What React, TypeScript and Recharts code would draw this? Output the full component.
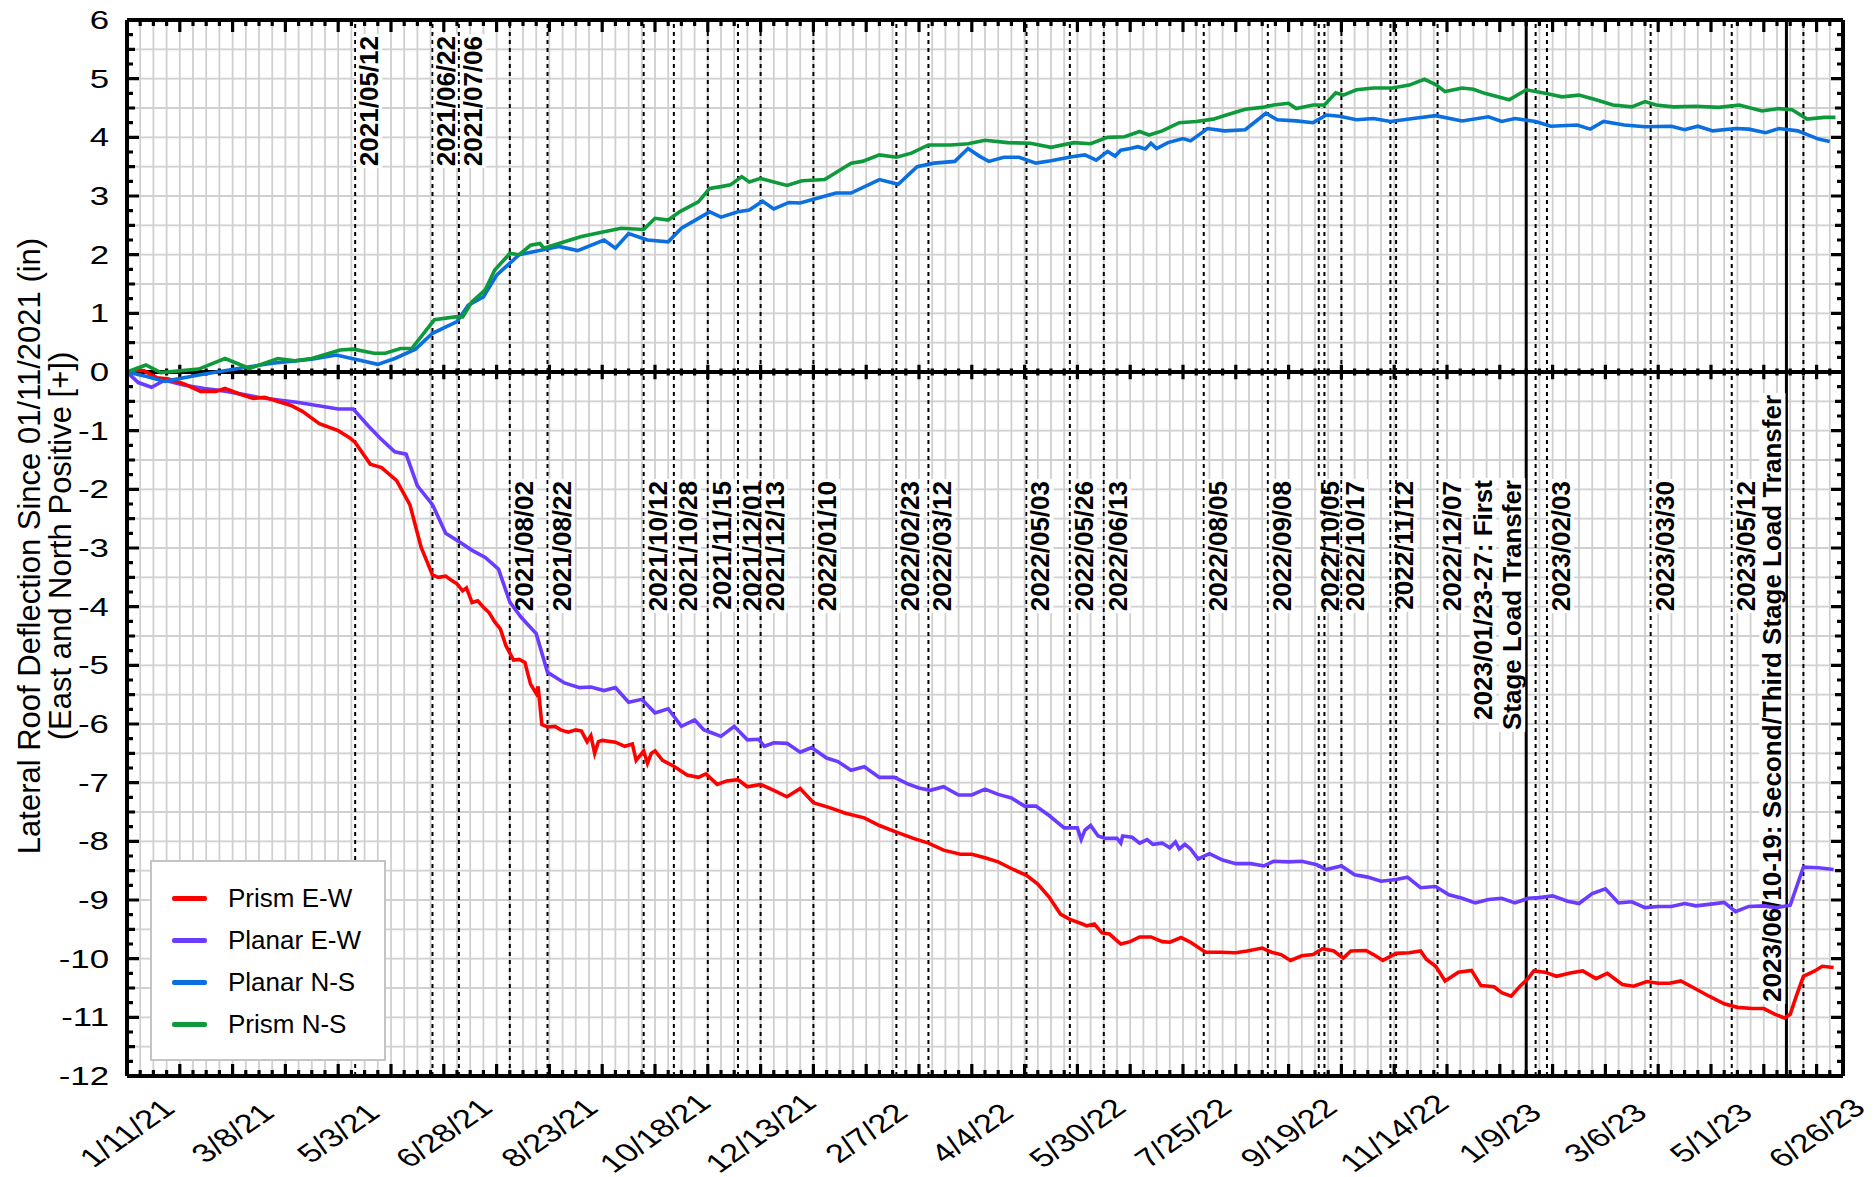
import React from "react";
import {
  CartesianGrid,
  Legend,
  Line,
  LineChart,
  ReferenceLine,
  XAxis,
  YAxis,
} from "recharts";

// x values are days since 1/11/21
const X_MAX = 910;
const Y_MIN = -12;
const Y_MAX = 6;
const PLOT_W = 1716;
const PLOT_H = 1056;
const START = Date.UTC(2021, 0, 11);
const FONT = "'Liberation Sans', Arial, sans-serif";

const xTickLabels = [
  "1/11/21", "3/8/21", "5/3/21", "6/28/21", "8/23/21", "10/18/21", "12/13/21",
  "2/7/22", "4/4/22", "5/30/22", "7/25/22", "9/19/22", "11/14/22",
  "1/9/23", "3/6/23", "5/1/23", "6/26/23",
];

const prismEW: [number, number][] = [
  [0, 0], [5, 0.03], [9, 0.02], [16, -0.1], [22, -0.12], [30, -0.2], [39, -0.33], [47, -0.33],
  [52, -0.28], [60, -0.38], [67, -0.45], [73, -0.43], [81, -0.51], [87, -0.57], [93, -0.67],
  [102, -0.88], [112, -1.0], [118, -1.12], [121, -1.2], [129, -1.57], [135, -1.63], [143, -1.85],
  [150, -2.26], [156, -2.99], [162, -3.46], [165, -3.5], [169, -3.48], [172, -3.55], [175, -3.61],
  [178, -3.73], [180, -3.68], [183, -3.93], [186, -3.9], [189, -4.01], [192, -4.1], [195, -4.26],
  [198, -4.38], [201, -4.67], [205, -4.91], [208, -4.9], [211, -4.95], [214, -5.32], [217, -5.48],
  [218, -5.36], [220, -6.01], [223, -6.05], [227, -6.04], [230, -6.1], [234, -6.14], [238, -6.1],
  [241, -6.12], [244, -6.3], [246, -6.2], [248, -6.5], [250, -6.3], [252, -6.28], [259, -6.31],
  [264, -6.38], [268, -6.34], [270, -6.62], [274, -6.46], [276, -6.67], [278, -6.5], [280, -6.46],
  [284, -6.62], [290, -6.72], [297, -6.87], [303, -6.91], [307, -6.85], [313, -7.03], [318, -6.97],
  [324, -6.95], [329, -7.07], [336, -7.03], [343, -7.13], [350, -7.24], [357, -7.1], [364, -7.34],
  [373, -7.43], [381, -7.52], [391, -7.6], [399, -7.73], [407, -7.83], [417, -7.95], [425, -8.03],
  [433, -8.15], [442, -8.22], [448, -8.22], [455, -8.28], [462, -8.35], [470, -8.48], [477, -8.58],
  [483, -8.73], [489, -8.95], [495, -9.24], [500, -9.33], [506, -9.4], [509, -9.44], [513, -9.41],
  [517, -9.56], [521, -9.58], [527, -9.75], [532, -9.71], [537, -9.63], [543, -9.63], [549, -9.71],
  [553, -9.72], [559, -9.64], [564, -9.72], [572, -9.89], [580, -9.89], [588, -9.9], [594, -9.87],
  [602, -9.82], [607, -9.89], [612, -9.93], [617, -10.03], [623, -9.95], [629, -9.93], [634, -9.83],
  [640, -9.87], [645, -9.99], [649, -9.87], [657, -9.86], [661, -9.93], [666, -10.03], [673, -9.91],
  [680, -9.9], [686, -9.87], [689, -10.01], [694, -10.13], [699, -10.38], [706, -10.23], [713, -10.2],
  [718, -10.46], [725, -10.48], [729, -10.58], [734, -10.64], [739, -10.46], [743, -10.34],
  [746, -10.21], [752, -10.23], [758, -10.3], [766, -10.24], [772, -10.21], [779, -10.34],
  [785, -10.25], [793, -10.44], [799, -10.47], [806, -10.39], [812, -10.42], [818, -10.42],
  [824, -10.38], [831, -10.5], [839, -10.64], [847, -10.77], [854, -10.83], [862, -10.85],
  [868, -10.85], [874, -10.95], [879, -11.01], [882, -10.95], [885, -10.66], [889, -10.3],
  [895, -10.21], [899, -10.13], [905, -10.15],
];

const planarEW: [number, number][] = [
  [0, 0], [6, -0.18], [13, -0.26], [20, -0.14], [30, -0.22], [41, -0.28], [53, -0.33], [71, -0.44],
  [91, -0.52], [112, -0.63], [120, -0.63], [128, -0.92], [134, -1.12], [142, -1.36], [148, -1.4],
  [154, -1.94], [162, -2.26], [169, -2.75], [177, -2.91], [183, -3.04], [190, -3.16], [197, -3.36],
  [203, -3.92], [209, -4.18], [217, -4.46], [223, -5.12], [232, -5.3], [240, -5.38], [246, -5.37],
  [253, -5.43], [259, -5.38], [266, -5.63], [273, -5.58], [280, -5.81], [287, -5.74], [294, -6.04],
  [301, -5.93], [306, -6.1], [310, -6.15], [315, -6.21], [322, -6.04], [329, -6.27], [335, -6.26],
  [338, -6.38], [343, -6.32], [350, -6.33], [357, -6.48], [363, -6.4], [371, -6.58], [377, -6.64],
  [384, -6.79], [391, -6.73], [399, -6.91], [407, -6.91], [414, -7.02], [420, -7.09], [426, -7.13],
  [433, -7.07], [441, -7.21], [448, -7.21], [455, -7.11], [462, -7.2], [469, -7.26], [476, -7.4],
  [482, -7.4], [489, -7.56], [497, -7.77], [504, -7.77], [506, -7.97], [508, -7.81], [511, -7.73],
  [515, -7.91], [519, -7.95], [525, -7.95], [527, -8.03], [528, -7.91], [533, -7.93], [537, -8.03],
  [541, -7.97], [544, -8.05], [549, -8.03], [553, -8.11], [556, -8.01], [558, -8.13], [561, -8.05],
  [564, -8.13], [568, -8.3], [574, -8.21], [581, -8.32], [588, -8.38], [596, -8.38], [603, -8.42],
  [608, -8.34], [616, -8.35], [623, -8.34], [631, -8.4], [636, -8.48], [644, -8.42], [651, -8.57],
  [658, -8.61], [665, -8.68], [673, -8.65], [679, -8.61], [686, -8.79], [694, -8.77], [701, -8.91],
  [708, -8.97], [715, -9.05], [722, -8.99], [729, -8.97], [736, -9.05], [743, -8.97], [749, -8.96],
  [756, -8.93], [764, -9.02], [770, -9.06], [777, -8.89], [784, -8.81], [791, -9.05], [798, -9.03],
  [805, -9.13], [812, -9.11], [819, -9.11], [826, -9.06], [832, -9.1], [840, -9.07], [847, -9.04],
  [853, -9.2], [860, -9.11], [868, -9.1], [875, -9.13], [882, -9.09], [889, -8.44], [897, -8.45],
  [905, -8.48],
];

const planarNS: [number, number][] = [
  [0, 0], [11, -0.08], [20, -0.16], [38, -0.05], [59, 0.06], [77, 0.15], [98, 0.22], [111, 0.29],
  [133, 0.13], [142, 0.23], [153, 0.39], [162, 0.66], [175, 0.86], [181, 1.14], [189, 1.28],
  [196, 1.65], [208, 2.0], [220, 2.08], [229, 2.14], [239, 2.07], [253, 2.25], [259, 2.11],
  [266, 2.36], [276, 2.25], [287, 2.22], [294, 2.45], [309, 2.73], [315, 2.64], [324, 2.73],
  [330, 2.76], [337, 2.91], [343, 2.78], [351, 2.89], [357, 2.88], [366, 2.96], [376, 3.05],
  [384, 3.05], [399, 3.28], [409, 3.2], [419, 3.5], [428, 3.56], [439, 3.59], [446, 3.81],
  [452, 3.68], [457, 3.59], [465, 3.66], [473, 3.66], [482, 3.56], [490, 3.6], [501, 3.67],
  [508, 3.7], [514, 3.61], [520, 3.76], [524, 3.68], [527, 3.78], [532, 3.81], [536, 3.84],
  [540, 3.8], [543, 3.9], [546, 3.81], [552, 3.91], [560, 3.98], [564, 3.94], [573, 4.15],
  [582, 4.11], [593, 4.13], [604, 4.41], [610, 4.3], [620, 4.28], [629, 4.25], [636, 4.38],
  [643, 4.36], [652, 4.3], [661, 4.32], [670, 4.27], [682, 4.32], [694, 4.37], [708, 4.28],
  [722, 4.35], [729, 4.27], [736, 4.32], [747, 4.27], [755, 4.19], [769, 4.21], [776, 4.14],
  [783, 4.27], [794, 4.21], [805, 4.18], [819, 4.19], [826, 4.13], [833, 4.19], [841, 4.11],
  [853, 4.15], [860, 4.14], [869, 4.08], [876, 4.15], [886, 4.11], [897, 3.97], [903, 3.93],
];

const prismNS: [number, number][] = [
  [0, 0], [10, 0.12], [18, -0.01], [38, 0.05], [52, 0.23], [65, 0.06], [80, 0.23], [89, 0.19],
  [98, 0.23], [113, 0.375], [120, 0.39], [131, 0.32], [137, 0.32], [145, 0.4], [151, 0.4],
  [163, 0.89], [174, 0.94], [178, 0.94], [183, 1.2], [190, 1.4], [195, 1.74], [203, 2.02],
  [208, 2.0], [214, 2.16], [219, 2.19], [221, 2.11], [232, 2.22], [241, 2.31], [253, 2.39],
  [262, 2.45], [274, 2.43], [280, 2.62], [287, 2.59], [293, 2.73], [303, 2.9], [309, 3.13],
  [315, 3.16], [320, 3.19], [326, 3.33], [330, 3.24], [336, 3.3], [350, 3.18], [358, 3.26],
  [370, 3.28], [384, 3.56], [390, 3.59], [399, 3.7], [408, 3.66], [416, 3.73], [425, 3.87],
  [437, 3.87], [446, 3.89], [455, 3.95], [467, 3.91], [479, 3.9], [490, 3.83], [502, 3.91],
  [511, 3.89], [520, 4.0], [529, 4.01], [537, 4.1], [542, 4.04], [549, 4.11], [558, 4.25],
  [567, 4.27], [576, 4.31], [583, 4.38], [593, 4.48], [602, 4.51], [608, 4.55], [616, 4.58],
  [620, 4.49], [629, 4.55], [635, 4.55], [641, 4.76], [645, 4.72], [652, 4.81], [661, 4.84],
  [671, 4.84], [680, 4.89], [688, 4.99], [694, 4.9], [699, 4.78], [708, 4.84], [714, 4.82],
  [720, 4.75], [727, 4.69], [733, 4.64], [742, 4.81], [752, 4.75], [761, 4.69], [770, 4.72],
  [779, 4.64], [788, 4.55], [798, 4.52], [805, 4.61], [811, 4.55], [820, 4.52], [832, 4.53],
  [844, 4.51], [855, 4.55], [867, 4.45], [876, 4.49], [883, 4.47], [891, 4.31], [900, 4.34],
  [906, 4.34],
];

const seriesNames = ["Prism E-W", "Planar E-W", "Planar N-S", "Prism N-S"];
const seriesColors = ["#ff0000", "#6b3cff", "#0b6fe0", "#0e9a3a"];

const upperEvents = ["2021/05/12", "2021/06/22", "2021/07/06"];
const lowerEvents = [
  "2021/08/02", "2021/08/22", "2021/10/12", "2021/10/28", "2021/11/15", "2021/12/01",
  "2021/12/13", "2022/01/10", "2022/02/23", "2022/03/12", "2022/05/03", "2022/05/26",
  "2022/06/13", "2022/08/05", "2022/09/08", "2022/10/05", "2022/10/17", "2022/11/12",
  "2022/12/07", "2023/02/03", "2023/03/30", "2023/05/12",
];
const plainEvents = ["2022/10/08", "2022/11/15", "2023/01/28", "2023/06/19"];
const stageEvents = [
  { date: "2023/01/23", lines: ["2023/01/23-27: First", "Stage Load Transfer"], dx: [-43, -14], top: 460 },
  { date: "2023/06/10", lines: ["2023/06/10-19: Second/Third Stage Load Transfer"], dx: [-14], top: 375 },
];

const dayOf = (s: string) => {
  const [y, m, d] = s.split("/").map(Number);
  return Math.round((Date.UTC(y, m - 1, d) - START) / 86400000);
};
const toPts = (a: [number, number][]) => a.map(([d, v]) => ({ d, v }));
const seriesData = [prismEW, planarEW, planarNS, prismNS].map(toPts);

const weekTicks = Array.from({ length: X_MAX / 7 + 1 }, (_, i) => i * 7);
const halfTicks = Array.from({ length: 37 }, (_, i) => Y_MIN + i * 0.5);
const quarterTicks = Array.from({ length: 73 }, (_, i) => Y_MIN + i * 0.25);

// inward tick marks, drawn as comb-shaped polylines in axis units
const pxX = (px: number) => (px * X_MAX) / PLOT_W;
const pxY = (px: number) => (px * (Y_MAX - Y_MIN)) / PLOT_H;
const xLen = (d: number) => (d % 28 === 0 ? 12 : 6);
const yLen = (v: number) => {
  const q = Math.round(v * 4);
  return q % 4 === 0 ? 12 : q % 2 === 0 ? 8 : 6;
};
const combs = [
  weekTicks.flatMap((d) => [
    { d, v: Y_MAX }, { d, v: Y_MAX - pxY(xLen(d)) }, { d, v: Y_MAX },
  ]),
  weekTicks.flatMap((d) => [
    { d, v: Y_MIN }, { d, v: Y_MIN + pxY(xLen(d)) }, { d, v: Y_MIN },
  ]),
  weekTicks.flatMap((d) => [
    { d, v: 0 }, { d, v: pxY(xLen(d) * 0.6) }, { d, v: -pxY(xLen(d) * 0.6) }, { d, v: 0 },
  ]),
  quarterTicks.flatMap((v) => [{ d: 0, v }, { d: pxX(yLen(v)), v }, { d: 0, v }]),
  quarterTicks.flatMap((v) => [{ d: X_MAX, v }, { d: X_MAX - pxX(yLen(v)), v }, { d: X_MAX, v }]),
];

let measureCtx: CanvasRenderingContext2D | null = null;
function textWidth(t: string) {
  if (!measureCtx) measureCtx = document.createElement("canvas").getContext("2d");
  if (!measureCtx) return t.length * 14;
  measureCtx.font = `bold 26px 'Liberation Sans'`;
  return measureCtx.measureText(t).width;
}

function XTick({ x, y, payload }: any) {
  const v = payload.value;
  if (v % 56 !== 0 || !xTickLabels[v / 56]) return <g />;
  return (
    <g transform={`translate(${x},${y + 57}) scale(1.34,1) rotate(-43)`}>
      <text textAnchor="middle" dominantBaseline="central" fontSize={26} fontFamily={FONT} fill="#000">
        {xTickLabels[v / 56]}
      </text>
    </g>
  );
}

function YTick({ x, y, payload }: any) {
  const v = payload.value;
  if (!Number.isInteger(v)) return <g />;
  return (
    <g transform={`translate(${x - 18},${y}) scale(1.34,1)`}>
      <text textAnchor="end" dominantBaseline="central" fontSize={26} fontFamily={FONT} fill="#000">
        {v}
      </text>
    </g>
  );
}

function EventLabel({ viewBox, lines, dx, top }: any) {
  if (!viewBox) return null;
  const y0 = viewBox.y + top;
  return (
    <g>
      {lines.map((t: string, i: number) => {
        const w = textWidth(t);
        return (
          <g key={i} transform={`translate(${viewBox.x + dx[i]},${y0}) rotate(-90)`}>
            <rect x={-w - 2} y={-13} width={w + 4} height={26} fill="#fff" />
            <text
              textAnchor="end"
              dominantBaseline="central"
              fontSize={26}
              fontWeight="bold"
              fontFamily={FONT}
              fill="#000"
            >
              {t}
            </text>
          </g>
        );
      })}
    </g>
  );
}

function YTitle({ viewBox }: any) {
  if (!viewBox) return null;
  const cy = viewBox.y + viewBox.height / 2 - 2;
  return (
    <text
      transform={`translate(${viewBox.x + 40},${cy}) rotate(-90)`}
      textAnchor="middle"
      fontSize={31}
      fontFamily={FONT}
      fill="#000"
    >
      <tspan x={0} dy={0}>Lateral Roof Deflection Since 01/11/2021 (in)</tspan>
      <tspan x={0} dy={31}>(East and North Positive [+])</tspan>
    </text>
  );
}

function LegendBox() {
  return (
    <div
      style={{
        width: 236,
        height: 201,
        boxSizing: "border-box",
        border: "2px solid #c4c4c4",
        background: "#fff",
        paddingTop: 15,
        fontFamily: FONT,
        fontSize: 26,
        color: "#000",
      }}
    >
      {seriesNames.map((n, i) => (
        <div key={n} style={{ display: "flex", alignItems: "center", height: 42 }}>
          <span
            style={{
              display: "inline-block",
              width: 35,
              height: 5,
              borderRadius: 2,
              background: seriesColors[i],
              marginLeft: 20,
              marginRight: 21,
            }}
          />
          {n}
        </div>
      ))}
    </div>
  );
}

const events = [
  ...upperEvents.map((s) => ({ date: s, lines: [s], dx: [14], top: 16, solid: false })),
  ...lowerEvents.map((s) => ({ date: s, lines: [s], dx: [s === "2022/10/05" ? 11 : 14], top: 461, solid: false })),
  ...plainEvents.map((s) => ({ date: s, lines: [] as string[], dx: [], top: 0, solid: false })),
  ...stageEvents.map((e) => ({ ...e, solid: true })),
].sort((a, b) => dayOf(a.date) - dayOf(b.date));

export default function App() {
  return (
    <div style={{ position: "absolute", left: 0, top: 0, width: 1875, height: 1177, background: "#fff" }}>
      <LineChart width={1875} height={1177} margin={{ top: 20, right: 32, bottom: 0, left: 0 }}>
        <CartesianGrid stroke="#d0d0d0" strokeWidth={1.8} />
        <XAxis
          dataKey="d"
          type="number"
          domain={[0, X_MAX]}
          allowDataOverflow
          ticks={weekTicks}
          interval={0}
          height={101}
          tickLine={false}
          tickSize={0}
          tickMargin={0}
          axisLine={{ stroke: "#000", strokeWidth: 4 }}
          tick={XTick}
        />
        <XAxis
          xAxisId="topIn"
          orientation="top"
          mirror
          type="number"
          domain={[0, X_MAX]}
          allowDataOverflow
          tick={false}
          tickLine={false}
          axisLine={{ stroke: "#000", strokeWidth: 4 }}
        />
        <YAxis
          type="number"
          domain={[Y_MIN, Y_MAX]}
          allowDataOverflow
          ticks={halfTicks}
          interval={0}
          width={127}
          tickLine={false}
          tickSize={0}
          tickMargin={0}
          axisLine={{ stroke: "#000", strokeWidth: 4 }}
          tick={YTick}
          label={<YTitle />}
        />
        <YAxis
          yAxisId="rightIn"
          orientation="right"
          mirror
          type="number"
          domain={[Y_MIN, Y_MAX]}
          allowDataOverflow
          tick={false}
          tickLine={false}
          axisLine={{ stroke: "#000", strokeWidth: 4 }}
        />
        {events.map((e) => (
          <ReferenceLine
            key={e.date}
            x={dayOf(e.date)}
            stroke="#000"
            strokeWidth={e.solid ? 3 : 2}
            strokeDasharray={e.solid ? undefined : "4 4"}
            label={e.lines.length ? <EventLabel lines={e.lines} dx={e.dx} top={e.top} /> : undefined}
          />
        ))}
        <ReferenceLine y={0} stroke="#000" strokeWidth={4} />
        {combs.map((c, i) => (
          <Line
            key={`comb${i}`}
            data={c}
            dataKey="v"
            type="linear"
            stroke="#000"
            strokeWidth={3.2}
            dot={false}
            activeDot={false}
            legendType="none"
            isAnimationActive={false}
          />
        ))}
        {[1, 0, 2, 3].map((i) => (
          <Line
            key={seriesNames[i]}
            data={seriesData[i]}
            dataKey="v"
            name={seriesNames[i]}
            type="linear"
            stroke={seriesColors[i]}
            strokeWidth={3.6}
            dot={false}
            isAnimationActive={false}
          />
        ))}
        <Legend
          layout="vertical"
          align="center"
          verticalAlign="middle"
          wrapperStyle={{ left: 150, top: 860, width: 236, height: 201 }}
          content={<LegendBox />}
        />
      </LineChart>
    </div>
  );
}
